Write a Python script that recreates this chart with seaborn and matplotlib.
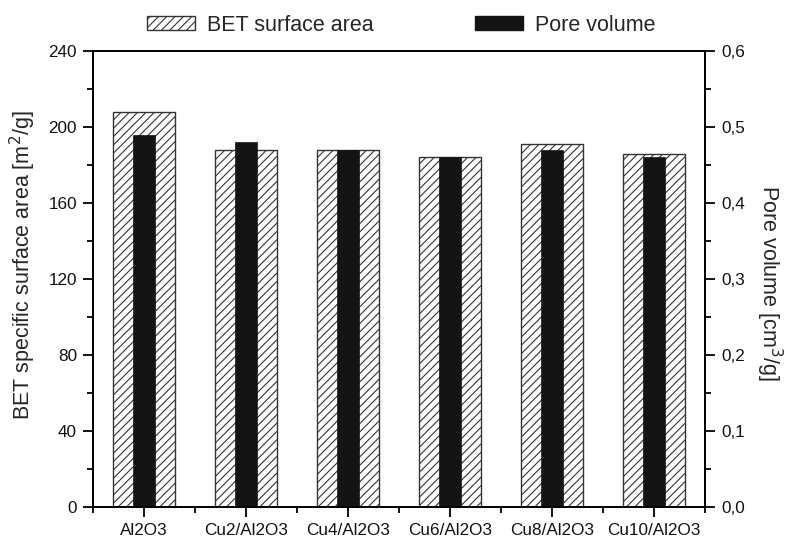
import matplotlib
matplotlib.use("Agg")
import matplotlib.pyplot as plt
import matplotlib.patches as mpatches
from matplotlib.ticker import MultipleLocator, FuncFormatter
import pandas as pd
import seaborn as sns

samples = ["Al2O3", "Cu2/Al2O3", "Cu4/Al2O3", "Cu6/Al2O3", "Cu8/Al2O3", "Cu10/Al2O3"]
bet_area = [208, 188, 188, 184, 191, 186]
pore_volume = [0.49, 0.48, 0.47, 0.46, 0.47, 0.46]

sns.set_theme(style="ticks")
plt.rcParams["font.family"] = ["Liberation Sans", "DejaVu Sans"]
plt.rcParams["hatch.linewidth"] = 0.8
plt.rcParams["hatch.color"] = "#333333"

df = pd.DataFrame({"sample": samples, "bet": bet_area, "pore": pore_volume})

fig = plt.figure(figsize=(7.87, 5.39), dpi=100)
ax = fig.add_axes([0.1182, 0.0594, 0.7776, 0.846])
ax2 = ax.twinx()

sns.barplot(data=df, x="sample", y="bet", color="white", edgecolor="#333333",
            linewidth=1.0, width=0.6, saturation=1, ax=ax)
for p in ax.patches:
    p.set_hatch("////")

sns.barplot(data=df, x="sample", y="pore", color="#141414", edgecolor="#141414",
            linewidth=0.5, width=0.21, saturation=1, ax=ax2)

ax.set_xlim(-0.5, 5.5)
ax.set_ylim(0, 240)
ax2.set_ylim(0, 0.6)

ax.yaxis.set_major_locator(MultipleLocator(40))
ax.yaxis.set_minor_locator(MultipleLocator(20))
ax2.yaxis.set_major_locator(MultipleLocator(0.1))
ax2.yaxis.set_minor_locator(MultipleLocator(0.05))
ax2.yaxis.set_major_formatter(FuncFormatter(lambda v, _: f"{v:.1f}".replace(".", ",")))
ax.xaxis.set_minor_locator(MultipleLocator(1, offset=0.5))

for a in (ax, ax2):
    for s in a.spines.values():
        s.set_linewidth(1.3)
        s.set_color("black")
    a.tick_params(which="major", length=7, width=1.3, direction="out", pad=4.5,
                  labelsize=12.3, color="black", labelcolor="#111111")
    a.tick_params(which="minor", length=4, width=1.3, direction="out", color="black")

ax.set_xlabel("")
ax.set_ylabel("BET specific surface area [m$^2$/g]", fontsize=15.5)
ax.yaxis.set_label_coords(-0.09, 0.531)
ax2.set_ylabel("Pore volume [cm$^3$/g]", fontsize=15.5, rotation=270, va="bottom")
ax2.yaxis.set_label_coords(1.08, 0.49)

handles = [
    mpatches.Patch(facecolor="white", edgecolor="#333333", hatch="////", linewidth=1.0),
    mpatches.Patch(facecolor="#141414", edgecolor="#141414"),
]
fig.legend(handles, ["BET surface area", "Pore volume"], loc="center",
           bbox_to_anchor=(0.5095, 0.9536), ncol=2, frameon=False, fontsize=15.5,
           handlelength=2.23, handleheight=0.62, handletextpad=0.56, columnspacing=4.7)

fig.savefig("out.png", dpi=100)
